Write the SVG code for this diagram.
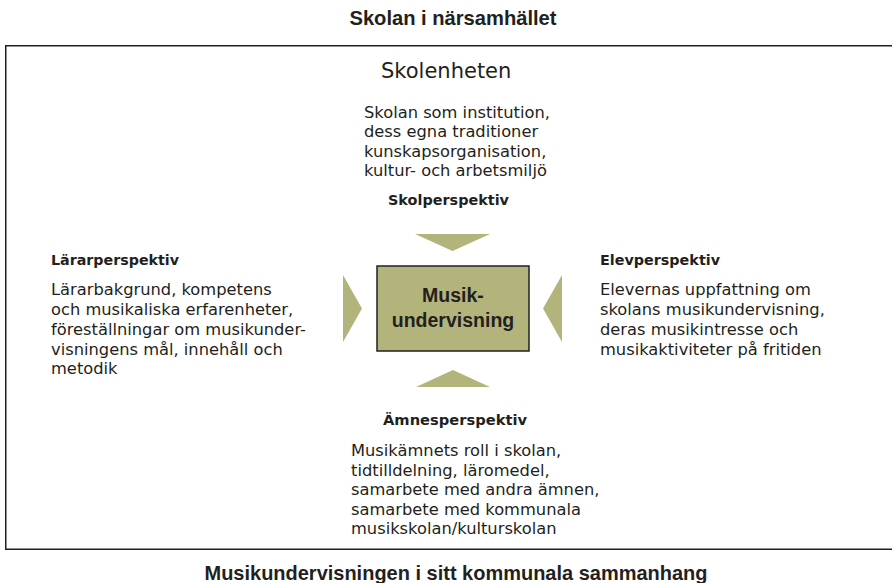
<svg xmlns="http://www.w3.org/2000/svg" width="892" height="583" viewBox="0 0 892 583">
<style>
text{fill:#231f20}
.title{font-family:"Liberation Sans",Arial,sans-serif;font-weight:bold;font-size:21px;text-anchor:middle}
.head{font-family:"DejaVu Sans",sans-serif;font-weight:bold;font-size:14.8px}
.body{font-family:"DejaVu Sans",sans-serif;font-size:16.3px}
.big{font-family:"DejaVu Sans",sans-serif;font-size:21px}
.center{font-family:"Liberation Sans",Arial,sans-serif;font-weight:bold;font-size:19.5px;text-anchor:middle}
.tri{fill:#b3b47c}
</style>
<rect x="0" y="0" width="892" height="583" fill="#fff"/>
<text class="title" x="453" y="25" textLength="207" lengthAdjust="spacingAndGlyphs">Skolan i närsamhället</text>
<rect x="5.75" y="45.75" width="900" height="503.5" fill="none" stroke="#231f20" stroke-width="1.5"/>
<g id="skolenheten">
<text class="big" x="381" y="78">Skolenheten</text>
<text class="body"><tspan x="364" y="117.5">Skolan som institution,</tspan><tspan x="364" y="137">dess egna traditioner</tspan><tspan x="364" y="156.5">kunskapsorganisation,</tspan><tspan x="364" y="176">kultur- och arbetsmiljö</tspan></text>
<text class="head" x="388" y="205" textLength="121" lengthAdjust="spacingAndGlyphs">Skolperspektiv</text>
</g>
<g id="larar">
<text class="head" x="51" y="265" textLength="128" lengthAdjust="spacingAndGlyphs">Lärarperspektiv</text>
<text class="body"><tspan x="51" y="295">Lärarbakgrund, kompetens</tspan><tspan x="51" y="315">och musikaliska erfarenheter,</tspan><tspan x="51" y="335">föreställningar om musikunder-</tspan><tspan x="51" y="355">visningens mål, innehåll och</tspan><tspan x="51" y="374">metodik</tspan></text>
</g>
<g id="elev">
<text class="head" x="600" y="265" textLength="120" lengthAdjust="spacingAndGlyphs">Elevperspektiv</text>
<text class="body"><tspan x="600" y="295">Elevernas uppfattning om</tspan><tspan x="600" y="315">skolans musikundervisning,</tspan><tspan x="600" y="335">deras musikintresse och</tspan><tspan x="600" y="355">musikaktiviteter på fritiden</tspan></text>
</g>
<g id="amnes">
<text class="head" x="383" y="425" textLength="144" lengthAdjust="spacingAndGlyphs">Ämnesperspektiv</text>
<text class="body"><tspan x="351" y="456">Musikämnets roll i skolan,</tspan><tspan x="351" y="475.5">tidtilldelning, läromedel,</tspan><tspan x="351" y="495">samarbete med andra ämnen,</tspan><tspan x="351" y="514.5">samarbete med kommunala</tspan><tspan x="351" y="534">musikskolan/kulturskolan</tspan></text>
</g>
<g id="connectors">
<polygon class="tri" points="415,234 490,234 452.5,251"/>
<polygon class="tri" points="416,387 490,387 453,370"/>
<polygon class="tri" points="343,275 362,308.5 343,342"/>
<polygon class="tri" points="562,275 543,308.5 562,342"/>
</g>
<g id="musikundervisning">
<rect x="377" y="266" width="152" height="85" fill="#b3b47c" stroke="#231f20" stroke-width="1.5"/>
<text class="center" x="453" y="302">Musik-</text>
<text class="center" x="453" y="327">undervisning</text>
</g>
<text class="title" x="456" y="580" textLength="503" lengthAdjust="spacingAndGlyphs">Musikundervisningen i sitt kommunala sammanhang</text>
</svg>
